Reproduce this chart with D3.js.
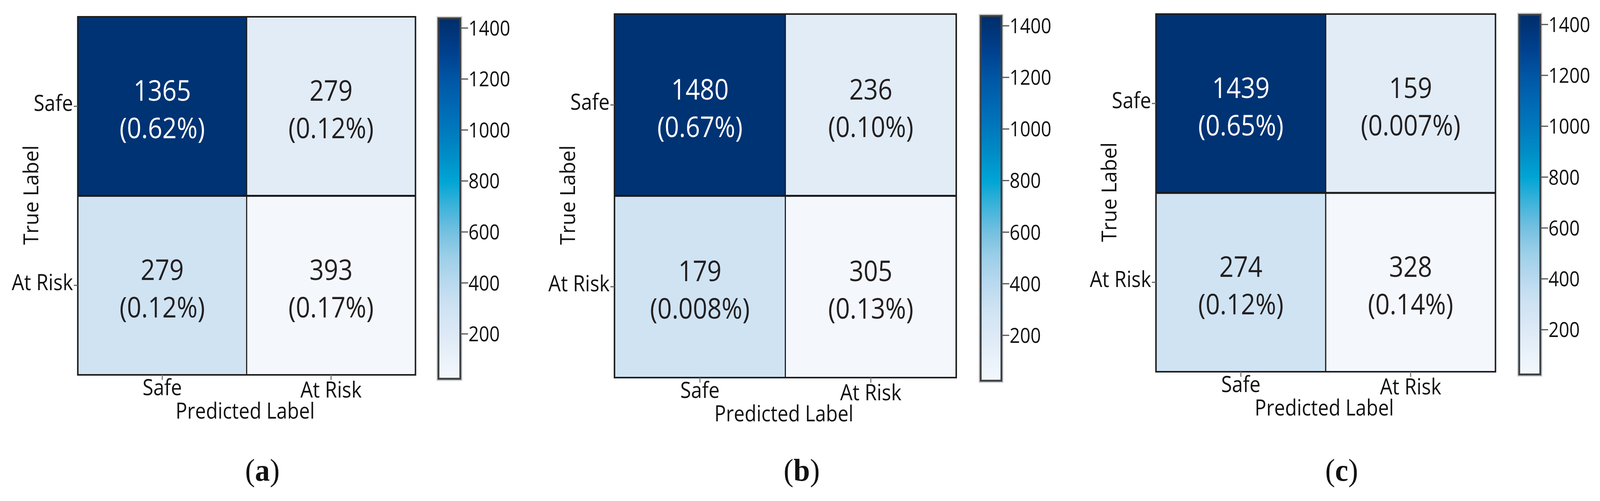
<!DOCTYPE html>
<meta charset="utf-8">
<style>
html, body { margin: 0; padding: 0; width: 100%; height: 100%; overflow: hidden; background: #fff; }
svg { display: block; width: 100vw; height: 100vh; }
.lab { font-family: "Open Sans", "Noto Sans", sans-serif; fill: #111; }
.cap { font-family: "Liberation Serif", "DejaVu Serif", serif; fill: #111; }
</style>
<body>
<svg viewBox="0 0 4317 1283" preserveAspectRatio="none"></svg>
<script src="https://d3js.org/d3.v7.min.js"></script>
<script>

// ---- data ----
var categories = ["Safe", "At Risk"];
var captions = ["a", "b", "c"];

// cells in order: (Safe,Safe), (Safe,At Risk), (At Risk,Safe), (At Risk,At Risk)
var countsA = [1365, 279, 279, 393],
    pctA = ["0.62%", "0.12%", "0.12%", "0.17%"];
var countsB = [1480, 236, 179, 305],
    pctB = ["0.67%", "0.10%", "0.008%", "0.13%"];
var countsC = [1439, 159, 274, 328],
    pctC = ["0.65%", "0.007%", "0.12%", "0.14%"];

// shade of each cell as read on the colorbar (same in all three panels)
var cellShade = [1400, 170, 300, 24];

var colorbarDomain = [24, 1438];
var colorbarTicks = [200, 400, 600, 800, 1000, 1200, 1400];
var stopValues = [24, 100, 200, 300, 400, 500, 600, 700, 800, 900, 1000, 1100, 1200, 1300, 1438];
var stopColors = ["#f4f8fd", "#eaf2fa", "#dde9f6", "#cfe3f3", "#b9d9ef", "#9dcfe8", "#74c0e0",
                  "#3db3da", "#00a5d4", "#008dc7", "#0079bd", "#0067b3", "#0056a4", "#00418f", "#002d6a"];

// ---- layout of each panel (pixels) ----
var panels = [
  {counts: countsA, pct: pctA, hm: [210, 43, 1121, 960], cb: [1183, 47, 1242, 970], cx: 708},
  {counts: countsB, pct: pctB, hm: [1658, 36, 2580, 967], cb: [2646, 41, 2702, 975], cx: 2163},
  {counts: countsC, pct: pctC, hm: [3119, 36, 4035, 952], cb: [4099, 38, 4156, 959], cx: 3620}
];

var sx = 0.93; // squeeze Open Sans toward the narrower original face

var color = d3.scaleLinear().domain(stopValues).range(stopColors);

var svg = d3.select("svg");
svg.append("rect").attr("width", 4317).attr("height", 1283).attr("fill", "#fff");

var defs = svg.append("defs");

function label(g, txt, x, y, size, anchor, rot) {
  return g.append("text")
      .attr("class", "lab")
      .attr("transform", "translate(" + x + "," + y + ")" + (rot ? " rotate(" + rot + ")" : "") + " scale(" + sx + ",1)")
      .attr("text-anchor", anchor)
      .style("font-size", size + "px")
      .text(txt);
}

panels.forEach(function(p, pi) {
  var g = svg.append("g");
  var x0 = p.hm[0], y0 = p.hm[1], x1 = p.hm[2], y1 = p.hm[3];

  var x = d3.scaleBand().domain(categories).range([x0, x1]),
      y = d3.scaleBand().domain(categories).range([y0, y1]);

  var cells = [];
  categories.forEach(function(t, i) {
    categories.forEach(function(pr, j) {
      var k = i * 2 + j;
      cells.push({t: t, p: pr, n: p.counts[k], pct: p.pct[k], shade: cellShade[k]});
    });
  });

  g.selectAll(".cell")
    .data(cells)
    .enter().append("rect")
      .attr("class", "cell")
      .attr("x", function(d) { return x(d.p); })
      .attr("y", function(d) { return y(d.t); })
      .attr("width", x.bandwidth())
      .attr("height", y.bandwidth())
      .attr("fill", function(d) { return color(d.shade); })
      .attr("stroke", "#1e1e1e")
      .attr("stroke-width", 3);

  // heavier line between the two rows, and the outer frame
  g.append("line")
      .attr("x1", x0).attr("x2", x1)
      .attr("y1", y(categories[1])).attr("y2", y(categories[1]))
      .attr("stroke", "#1a1a1a").attr("stroke-width", 5);
  g.append("rect")
      .attr("x", x0).attr("y", y0).attr("width", x1 - x0).attr("height", y1 - y0)
      .attr("fill", "none").attr("stroke", "#1e1e1e").attr("stroke-width", 4);

  cells.forEach(function(d) {
    var cx = x(d.p) + x.bandwidth() / 2,
        cy = y(d.t) + y.bandwidth() / 2;
    var fill = d.shade > 900 ? "#fff" : "#231f20";
    label(g, d.n, cx, cy - 14, 73, "middle").style("fill", fill);
    label(g, "(" + d.pct + ")", cx, cy + 82, 73, "middle").style("fill", fill);
  });

  // ticks and tick labels
  categories.forEach(function(c, i) {
    var ty = y(c) + y.bandwidth() / 2;
    g.append("line").attr("x1", x0 - 11).attr("x2", x0).attr("y1", ty).attr("y2", ty)
        .attr("stroke", "#666").attr("stroke-width", 3);
    label(g, c, x0 - 13, ty + 12, 57, "end");

    var tx = x(c) + x.bandwidth() / 2;
    g.append("line").attr("x1", tx).attr("x2", tx).attr("y1", y1).attr("y2", y1 + 13)
        .attr("stroke", "#777").attr("stroke-width", 3);
    label(g, c, tx, y1 + 52 + i * 6, 57, "middle");
  });

  label(g, "Predicted Label", (x0 + x1) / 2 - 4, y1 + 112, 56, "middle");
  label(g, "True Label", x0 - 107, (y0 + y1) / 2 - 2, 56, "middle", -90);

  // colorbar
  var c0 = p.cb[0], cTop = p.cb[1], c1 = p.cb[2], cBot = p.cb[3];
  var cy = d3.scaleLinear().domain(colorbarDomain).range([cBot, cTop]);

  var grad = defs.append("linearGradient")
      .attr("id", "cbgrad" + pi)
      .attr("x1", 0).attr("y1", 1).attr("x2", 0).attr("y2", 0);
  grad.selectAll("stop")
    .data(stopValues)
    .enter().append("stop")
      .attr("offset", function(v) { return (v - colorbarDomain[0]) / (colorbarDomain[1] - colorbarDomain[0]); })
      .attr("stop-color", function(v) { return color(v); });

  g.append("rect")
      .attr("x", c0 - 1).attr("y", cTop - 1).attr("width", c1 - c0 + 2).attr("height", cBot - cTop + 2)
      .attr("fill", "none").attr("stroke", "#d0d0d0").attr("stroke-width", 9);
  g.append("rect")
      .attr("x", c0).attr("y", cTop).attr("width", c1 - c0).attr("height", cBot - cTop)
      .attr("fill", "url(#cbgrad" + pi + ")")
      .attr("stroke", "#3a4046").attr("stroke-width", 5);

  colorbarTicks.forEach(function(v) {
    var ty = cy(v);
    g.append("line").attr("x1", c1).attr("x2", c1 + 21).attr("y1", ty).attr("y2", ty)
        .attr("stroke", "#555").attr("stroke-width", 3);
    label(g, v, c1 + 22, ty + 19, 53, "start");
  });

  // caption
  var cap = g.append("text")
      .attr("class", "cap")
      .attr("x", p.cx).attr("y", 1231)
      .attr("text-anchor", "middle")
      .style("font-size", "80px");
  cap.append("tspan").text("(");
  cap.append("tspan").style("font-weight", "bold").text(captions[pi]);
  cap.append("tspan").text(")");
});

</script>
</body>
